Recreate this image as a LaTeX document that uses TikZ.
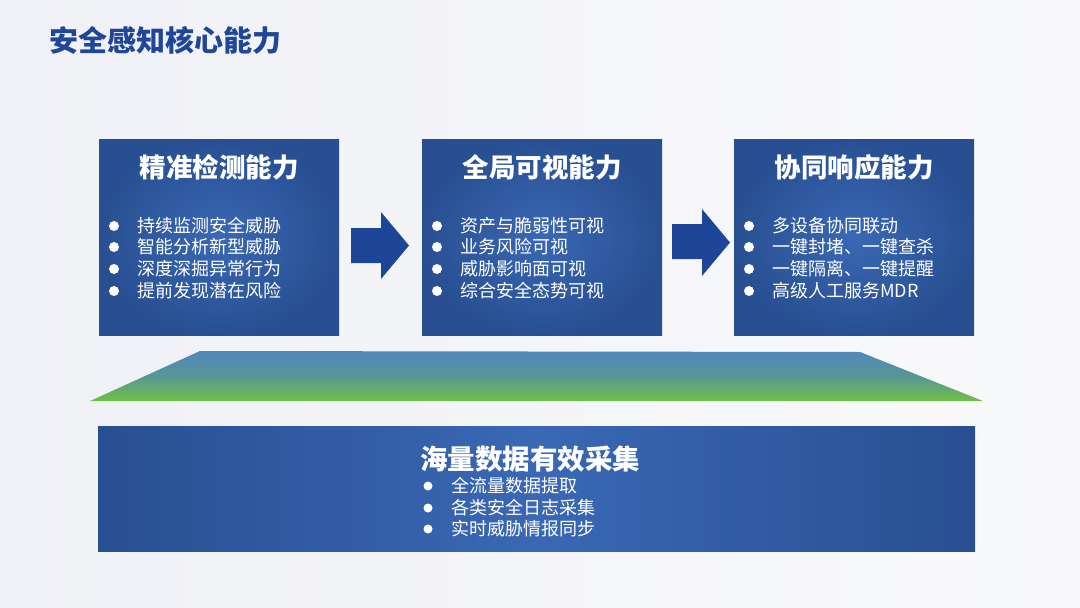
\documentclass[tikz,border=0pt]{standalone}
\usepackage{fontspec}
\setmainfont{Noto Sans CJK SC}[BoldFont={Noto Sans CJK SC Bold}]
\newfontfamily\heavyfont{Noto Sans CJK SC Black}
\usetikzlibrary{shapes.geometric}
\definecolor{bgc}{RGB}{240,241,246}
\definecolor{titleblue}{RGB}{31,70,152}
\definecolor{boxin}{RGB}{58,104,180}
\definecolor{boxout}{RGB}{40,79,146}
\definecolor{arrowblue}{RGB}{30,70,152}
\definecolor{trapblue}{RGB}{80,136,190}
\definecolor{trapmid}{RGB}{88,150,150}
\definecolor{trapgreen}{RGB}{112,192,68}
\tikzset{
  capbox/.style={shade, inner color=boxin, outer color=boxout, minimum width=240pt, minimum height=196pt, inner sep=0pt, draw=none},
  captitle/.style={text=white, font=\heavyfont\fontsize{26.5}{30}\selectfont, anchor=center, inner sep=0pt},
  bitem/.style={text=white, font=\fontsize{18}{21}\selectfont, anchor=west, inner sep=0pt},
  bdot/.style={circle, fill=white, minimum size=10pt, inner sep=0pt},
  blockarrow/.style={fill=arrowblue, draw=none}
}
\begin{document}
\begin{tikzpicture}[x=1pt,y=-1pt]
\useasboundingbox (0,0) rectangle (1080,608);
\fill[bgc] (0,0) rectangle (1080,608);
\shade[left color=bgc, right color=white!60!bgc, middle color=white!30!bgc] (0,0) rectangle (1080,608);

\node[text=titleblue, font=\heavyfont\fontsize{29}{34}\selectfont, anchor=west, inner sep=0pt] (title) at (49,40) {安全感知核心能力};

% three boxes
\node[capbox] (b1) at (219,237) {};
\node[capbox] (b2) at (542,237) {};
\node[capbox] (b3) at (854,237) {};

\node[captitle] (t1) at (219,167) {精准检测能力};
\node[captitle] (t2) at (542,167) {全局可视能力};
\node[captitle] (t3) at (854,167) {协同响应能力};

% bullets
\foreach \y/\t [count=\i] in {226/持续监测安全威胁,247/智能分析新型威胁,269/深度深掘异常行为,291/提前发现潜在风险}{
  \node[bdot] (d1\i) at (114,\y) {};
  \node[bitem] (l1\i) at (137,\y) {\t};
}
\foreach \y/\t [count=\i] in {226/资产与脆弱性可视,247/业务风险可视,269/威胁影响面可视,291/综合安全态势可视}{
  \node[bdot] (d2\i) at (437,\y) {};
  \node[bitem] (l2\i) at (460,\y) {\t};
}
\foreach \y/\t [count=\i] in {226/多设备协同联动,247/一键封堵、一键查杀,269/一键隔离、一键提醒,291/高级人工服务MDR}{
  \node[bdot] (d3\i) at (749,\y) {};
  \node[bitem] (l3\i) at (772,\y) {\t};
}

% block arrows
\fill[blockarrow] (351,228) -- (381,228) -- (381,212) -- (409,245.5) -- (381,279) -- (381,263) -- (351,263) -- cycle;
\fill[blockarrow] (672,224) -- (702,224) -- (702,209) -- (730,242.5) -- (702,276) -- (702,259) -- (672,259) -- cycle;

% trapezoid
\shade[top color=trapblue, bottom color=trapgreen, middle color=trapmid] (200,351) -- (860,352) -- (983,401) -- (90,401) -- cycle;

% bottom box
\node[shade, left color=boxout, right color=boxout, middle color=boxin, minimum width=877pt, minimum height=125pt, inner sep=0pt] (bb) at (536.5,488.5) {};
\node[captitle, font=\heavyfont\fontsize{27.5}{30}\selectfont] (tb) at (530,459) {海量数据有效采集};
\foreach \y/\t [count=\i] in {486/全流量数据提取,508/各类安全日志采集,529/实时威胁情报同步}{
  \node[bdot, minimum size=9pt] (d4\i) at (428,\y) {};
  \node[bitem] (l4\i) at (451,\y) {\t};
}
\end{tikzpicture}
\end{document}
